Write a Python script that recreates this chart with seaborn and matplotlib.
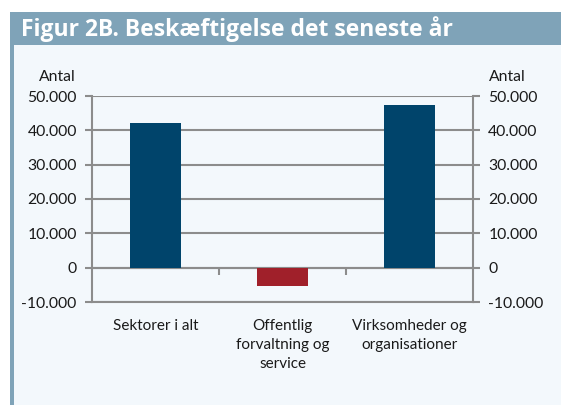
import numpy as np
import pandas as pd
import seaborn as sns
import matplotlib.pyplot as plt
from matplotlib.patches import Rectangle
from matplotlib.ticker import FuncFormatter

categories = ['Sektorer i alt', 'Offentlig\nforvaltning og\nservice', 'Virksomheder og\norganisationer']
values = [42000, -5400, 47400]
bar_colors = ['#00446B', '#A0202A', '#00446B']

title = 'Figur 2B. Beskæftigelse det seneste år'
yticks = [-10000, 0, 10000, 20000, 30000, 40000, 50000]

sns.set_theme(style='white')
plt.rcParams['font.family'] = ['Lato', 'DejaVu Sans']

df = pd.DataFrame({'kategori': categories, 'antal': values})

W, H = 561, 405
fig = plt.figure(figsize=(W / 100, H / 100), dpi=100)
fig.patch.set_facecolor('white')

# panel background, title bar, left stripe
for (x0, y0, w, h, c) in [(10, 45, W, H, '#F3F8FC'),
                          (10, 12, W, 33, '#7FA3B8'),
                          (10, 45, 4, H, '#7FA3B8')]:
    fig.add_artist(Rectangle((x0 / W, 1 - (y0 + h) / H), w / W, h / H,
                             transform=fig.transFigure, facecolor=c,
                             edgecolor='none', zorder=-5))
fig.text(21 / W, 1 - 29 / H, title, color='white', fontsize=16.5, fontweight='bold',
         va='center', ha='left', family=['Open Sans', 'DejaVu Sans'])

ax = fig.add_axes([92 / W, 1 - 302 / H, 381 / W, 206 / H])
ax.set_facecolor('#F3F8FC')

sns.barplot(data=df, x='kategori', y='antal', hue='kategori', palette=bar_colors,
            width=0.4, legend=False, ax=ax, zorder=3, saturation=1,
            edgecolor='none', linewidth=0)

grey = '#8C8C8C'
ax.set_ylim(-10000, 50000)
ax.set_xlim(-0.5, 2.5)
ax.set_yticks(yticks)
ax.yaxis.set_major_formatter(FuncFormatter(lambda v, p: f'{int(v):,}'.replace(',', '.')))
ax.grid(axis='y', color=grey, linewidth=1.5, zorder=1)
ax.set_axisbelow(True)
for s in ['left', 'right', 'bottom']:
    ax.spines[s].set_color(grey)
    ax.spines[s].set_linewidth(1.5)
ax.spines['top'].set_visible(False)
ax.tick_params(axis='y', left=True, right=True, labelleft=True, labelright=True,
               length=5, width=1.5, color=grey, labelsize=11.3, labelcolor='#1a1a1a', pad=6)
ax.tick_params(axis='x', length=0, labelsize=11, labelcolor='#1a1a1a', pad=12)
for lab in ax.get_xticklabels():
    lab.set_linespacing(1.45)
ax.set_xlabel('')
ax.set_ylabel('')

# zero line with category separator ticks
sec = ax.secondary_xaxis(1 / 6)
sec.set_xticks([0.5, 1.5])
sec.set_xticklabels(['', ''])
sec.spines['bottom'].set_color(grey)
sec.spines['bottom'].set_linewidth(1.5)
sec.tick_params(axis='x', direction='out', length=5, width=1.5, color=grey)

ax.text(-0.09, 1.06, 'Antal', transform=ax.transAxes, ha='center', va='bottom',
        fontsize=11.3, color='#1a1a1a')
ax.text(1.09, 1.06, 'Antal', transform=ax.transAxes, ha='center', va='bottom',
        fontsize=11.3, color='#1a1a1a')

fig.savefig('out.png', dpi=100)
